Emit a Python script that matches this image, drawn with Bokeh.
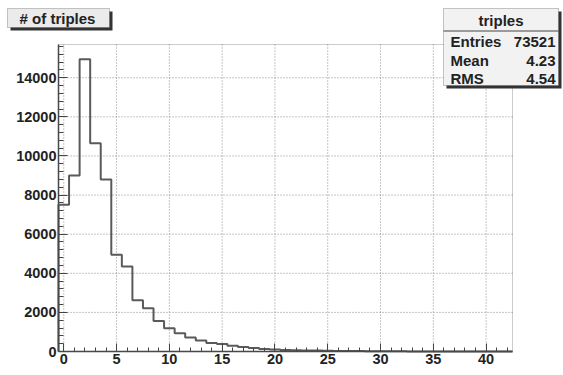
import numpy as np
from bokeh.plotting import figure
from bokeh.models import BoxAnnotation, Label, FixedTicker, Range1d
from bokeh.embed import file_html
from bokeh.resources import INLINE

# ---- data ----
bin_centers = list(range(0, 43))
counts = [7500, 9000, 14950, 10650, 8800, 4950, 4350, 2620, 2210, 1560,
          1190, 930, 710, 560, 440, 380, 290, 230, 180, 130,
          100, 80, 65, 55, 45, 35, 30, 25, 20, 15,
          12, 10, 8, 6, 5, 4, 3, 2, 2, 1,
          1, 1, 0]
x_major_ticks = [0, 5, 10, 15, 20, 25, 30, 35, 40]
x_minor_ticks = list(range(0, 43))
y_major_ticks = [0, 2000, 4000, 6000, 8000, 10000, 12000, 14000]
y_minor_ticks = list(range(0, 15700, 400))
title_text = "# of triples"
stats_name = "triples"
stats_rows = [("Entries", "73521"), ("Mean", "4.23"), ("RMS", "4.54")]

# ---- geometry: pixel frame of the histogram pad ----
W, H = 563, 375
FL, FR, FT, FB = 58, 512, 44, 351
X0, X1 = -0.5, 42.5
Y0, Y1 = 0, 15700

def dx(px):
    return X0 + (px - FL) * (X1 - X0) / (FR - FL)

def dy(py):
    return Y1 - (py - FT) * (Y1 - Y0) / (FB - FT)

p = figure(width=W, height=H, output_backend="svg", toolbar_location=None, title=None,
           x_range=Range1d(dx(0), dx(W)), y_range=Range1d(dy(H), dy(0)),
           min_border=0, min_border_left=0, min_border_right=0,
           min_border_top=0, min_border_bottom=0)
p.background_fill_color = "white"
p.border_fill_color = "white"
p.outline_line_color = None
p.xgrid.visible = False
p.ygrid.visible = False

# grid lines (dotted) at major ticks, inside the pad
gx = [t for t in x_major_ticks]
p.segment(x0=gx, y0=[Y0] * len(gx), x1=gx, y1=[Y1] * len(gx),
          line_color="#8c8c8c", line_dash="1 2", line_width=1)
gy = [t for t in y_major_ticks if t > Y0]
p.segment(x0=[X0] * len(gy), y0=gy, x1=[X1] * len(gy), y1=gy,
          line_color="#8c8c8c", line_dash="1 2", line_width=1)

# histogram outline path built from the bins
c = np.array(bin_centers, dtype=float)
n = np.array(counts, dtype=float)
edges_lo = c - 0.5
edges_hi = c + 0.5
xs = [edges_lo[0]]
ys = [0.0]
for lo, hi, v in zip(edges_lo, edges_hi, n):
    xs += [lo, hi]
    ys += [v, v]
xs.append(edges_hi[-1])
ys.append(0.0)
p.line(xs, ys, line_color="#5a5a5a", line_width=2)

# pad frame
p.add_layout(BoxAnnotation(left=X0, right=X1, bottom=Y0, top=Y1, fill_alpha=0,
                           line_color="#555555", line_width=1, level="annotation"))

font = "Liberation Sans"
xa = p.xaxis[0]
ya = p.yaxis[0]
xa.fixed_location = Y0
xa.bounds = (X0, X1)
ya.fixed_location = X0
ya.bounds = (Y0, Y1)
for ax in (xa, ya):
    ax.major_label_text_font = font
    ax.major_label_text_font_style = "bold"
    ax.major_label_text_font_size = "14.5px"
    ax.major_label_text_color = "#222222"
    ax.axis_line_color = "#444444"
    ax.axis_line_width = 1.5
    ax.major_tick_line_color = "#444444"
    ax.minor_tick_line_color = "#444444"
    ax.major_tick_out = 0
    ax.minor_tick_out = 0
    ax.major_label_standoff = 2

xa.ticker = FixedTicker(ticks=x_major_ticks, minor_ticks=x_minor_ticks)
ya.ticker = FixedTicker(ticks=y_major_ticks, minor_ticks=y_minor_ticks)
xa.major_tick_in = 8
xa.minor_tick_in = 4
ya.major_tick_in = 9
ya.minor_tick_in = 5

# ---- boxes ----
def box(l, r, t, b, fill):
    p.add_layout(BoxAnnotation(left=dx(l + 3), right=dx(r + 3), top=dy(t + 3), bottom=dy(b + 3),
                               fill_color="#333333", fill_alpha=1, line_alpha=0, level="overlay"))
    p.add_layout(BoxAnnotation(left=dx(l), right=dx(r), top=dy(t), bottom=dy(b),
                               fill_color=fill, fill_alpha=1, line_color="#444444",
                               line_width=1, level="overlay"))

def label(px, py, text, align):
    p.add_layout(Label(x=dx(px), y=dy(py), text=text, text_align=align,
                       text_baseline="middle", text_font=font, text_font_style="bold",
                       text_font_size="15px", text_color="#222222", level="overlay"))

box(7, 109, 8, 27, "#ebebeb")
label(57, 18, title_text, "center")

box(443, 558, 8, 85, "#f2f2f2")
p.add_layout(BoxAnnotation(left=dx(443), right=dx(558), top=dy(30), bottom=dy(31),
                           fill_color="#444444", fill_alpha=1, line_alpha=0, level="overlay"))
label(500.5, 20, stats_name, "center")
row_y = [41, 60, 78]
for (name, val), ry in zip(stats_rows, row_y):
    label(450, ry, name, "left")
    label(555, ry, val, "right")

open("out.html", "w").write(file_html(p, INLINE))
